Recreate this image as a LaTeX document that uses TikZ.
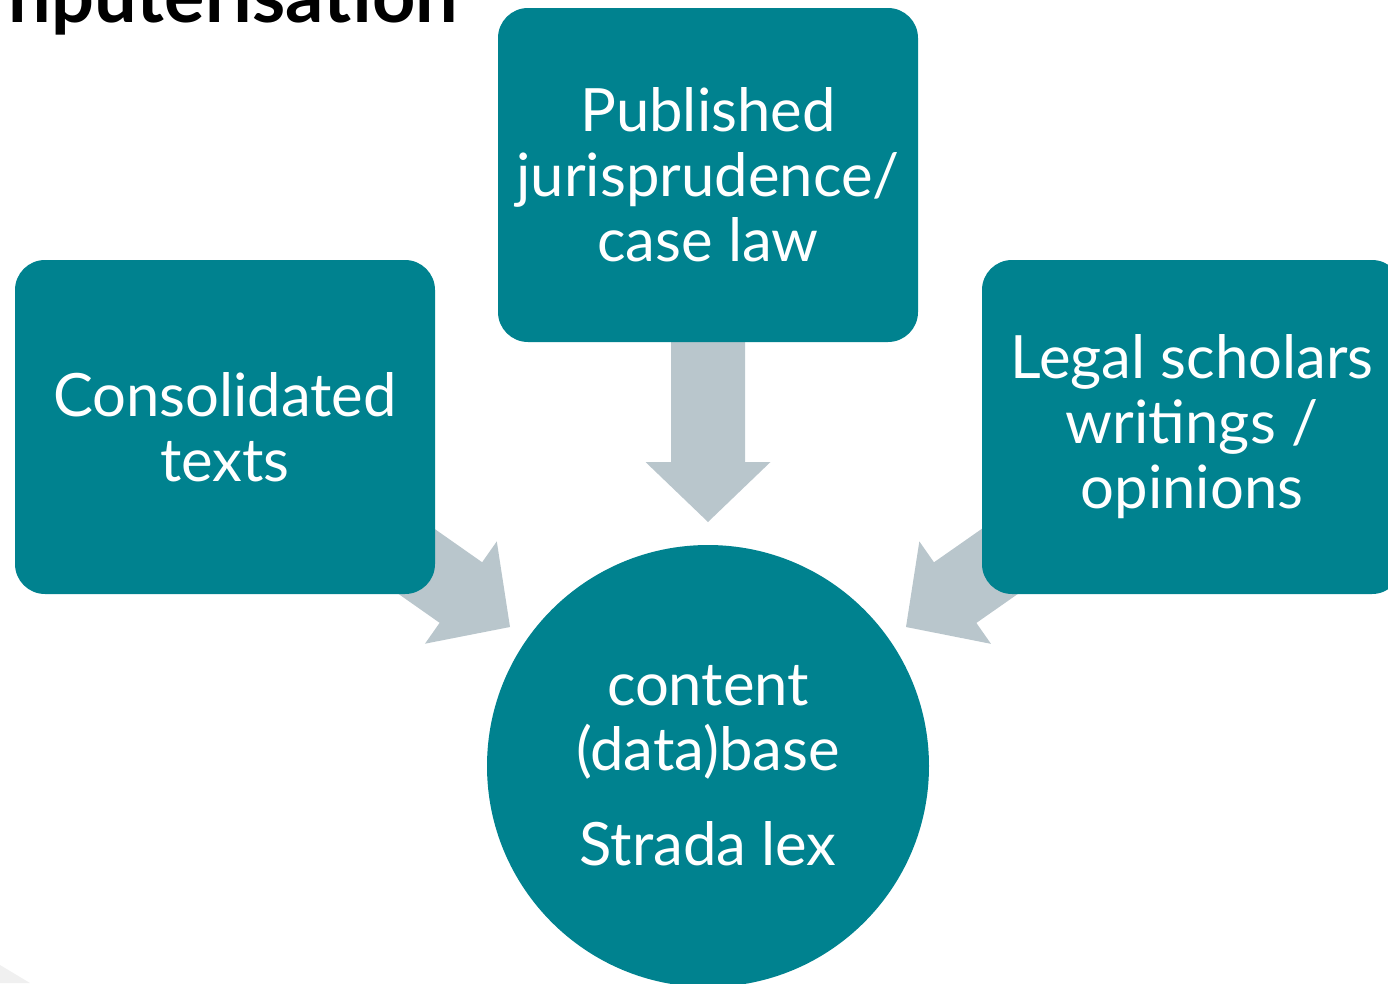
\documentclass[tikz,border=0pt]{standalone}
\usepackage{fontspec}
\setmainfont{Lato}
\usetikzlibrary{calc,backgrounds}
\definecolor{lexteal}{RGB}{0,130,143}
\definecolor{lexgrey}{RGB}{185,198,204}
\definecolor{lexshade}{RGB}{240,240,240}
\tikzset{
	source/.style={rectangle, rounded corners=0.3cm, fill=lexteal, text=white,
		minimum width=4.2cm, minimum height=3.34cm, inner sep=1pt, align=center,
		font=\fontsize{17}{18.5}\selectfont},
	database/.style={circle, fill=lexteal, text=white, minimum size=4.42cm,
		inner sep=0pt, align=center, font=\fontsize{17}{18.5}\selectfont},
	feed/.style={fill=lexgrey},
	heading/.style={anchor=base west, inner sep=0pt,
		font=\fontsize{21.5}{21.5}\selectfont\bfseries},
}
% block arrow from #1 to the tip #2
\newcommand\blockarrow[2]{
	\path ($(#2)!0.6cm!(#1)$) coordinate (head);
	\fill[feed] ($(#1)!0.37cm!90:(#2)$) -- ($(head)!0.37cm!90:(#2)$)
		-- ($(head)!0.625cm!90:(#2)$) -- (#2)
		-- ($(head)!0.625cm!-90:(#2)$) -- ($(head)!0.37cm!-90:(#2)$)
		-- ($(#1)!0.37cm!-90:(#2)$) -- cycle;
}

\begin{document}
\begin{tikzpicture}
	\useasboundingbox (0,0) rectangle (13.88,9.83);
	\clip (0,0) rectangle (13.88,9.83);

	\node[heading] (title) at (0.08,9.61) {nputerisation};

	\node[source] (cases) at (7.08,8.08) {Published\\jurisprudence/\\case law};
	\node[source] (consolidated) at (2.25,5.56) {Consolidated\\texts};
	\node[source] (doctrine) at (11.92,5.56) {Legal scholars\\writings /\\opinions};
	\node[database] (strada) at (7.08,2.17) {content\\(data)base\\[0.3cm]Strada lex};

	\coordinate (tipL) at (5.10,3.56);
	\coordinate (tipT) at (7.08,4.61);
	\coordinate (tipR) at (9.06,3.56);

	\begin{scope}[on background layer]
		\fill[lexshade] (0,0.18) -- (0.30,0) -- (0,0) -- cycle;
		\blockarrow{consolidated.center}{tipL}
		\blockarrow{cases.center}{tipT}
		\blockarrow{doctrine.center}{tipR}
	\end{scope}
\end{tikzpicture}
\end{document}
